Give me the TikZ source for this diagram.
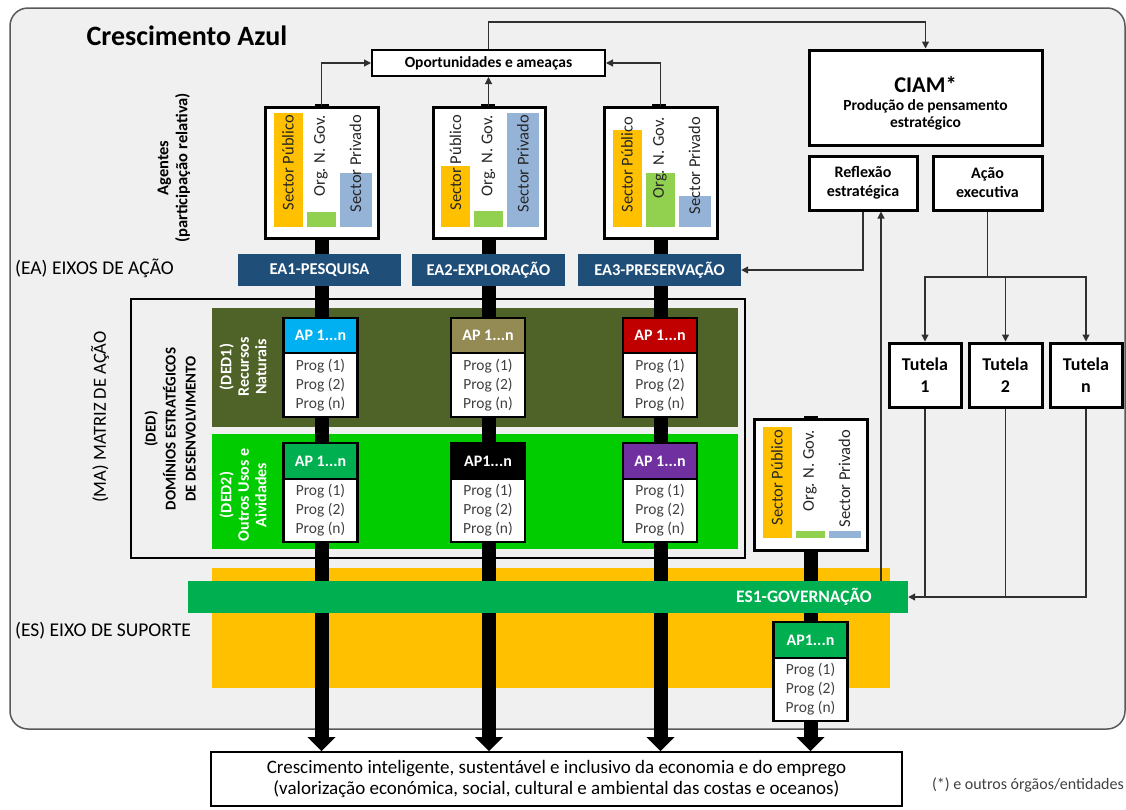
\documentclass[tikz,border=0pt]{standalone}
\usepackage{fontspec}
\setmainfont{Carlito}
\usetikzlibrary{arrows.meta,calc}
\definecolor{bgc}{HTML}{F0F0F0}
\definecolor{framec}{HTML}{595959}
\definecolor{eablue}{HTML}{1F4E79}
\definecolor{orangeC}{HTML}{FFC000}
\definecolor{greenbar}{HTML}{92D050}
\definecolor{bluebar}{HTML}{95B3D7}
\definecolor{olive}{HTML}{4F6228}
\definecolor{brightgreen}{HTML}{00CC00}
\definecolor{esgreen}{HTML}{00B050}
\definecolor{cyanC}{HTML}{00B0F0}
\definecolor{khaki}{HTML}{948A54}
\definecolor{redC}{HTML}{C00000}
\definecolor{purpleC}{HTML}{7030A0}
\definecolor{txtgray}{HTML}{404040}
\definecolor{linec}{HTML}{303030}
\newcommand\fsz[2]{\fontsize{#1}{#2}\selectfont}
\newcommand\agentbars[7]{%
  \fill[orangeC] ({#2-48},#4) rectangle ({#2-19},#3);
  \fill[greenbar] ({#2-15},#5) rectangle ({#2+14},#3);
  \fill[bluebar] ({#2+18},#6) rectangle ({#2+50},#3);
  \node[barlabel] (#1o) at ({#2-33.5},#7) {Sector Público};
  \node[barlabel] (#1g) at ({#2-0.5},#7) {Org. N. Gov.};
  \node[barlabel] (#1b) at ({#2+34},#7) {Sector Privado};
}
\newcommand\apbox[7]{%
  \node[aph, fill=#6, minimum height={#4-#3}] (#1h) at (#2,{(#3+#4)/2}) {#7};
  \node[apb, minimum height={#5-#4}] (#1b) at (#2,{(#4+#5)/2}) {Prog (1)\\Prog (2)\\Prog (n)};
}
\begin{document}
\begin{tikzpicture}[x=1pt,y=-1pt,
  thickbox/.style={draw=black, line width=3pt, fill=white, inner sep=0pt, align=center},
  agbox/.style={draw=black, line width=3pt, fill=white, inner sep=0pt, minimum width=113, minimum height=131},
  barlabel/.style={rotate=90, anchor=east, inner sep=0pt, font=\fsz{16.5}{18}, text=black!85},
  eabar/.style={fill=eablue, text=white, inner sep=0pt, minimum height=32, font=\fsz{16.5}{18}\bfseries},
  aph/.style={draw=black, line width=2.5pt, minimum width=74, inner sep=0pt, text=white, font=\fsz{16}{18}\bfseries},
  apb/.style={draw=black, line width=2.5pt, fill=white, minimum width=74, inner sep=0pt, align=center, text=txtgray, font=\fsz{15.5}{19}},
  thinarrow/.style={draw=linec, line width=1.2pt, -{Triangle[length=7pt,width=7pt]}},
  thinline/.style={draw=linec, line width=1.2pt},
  bigarrow/.style={draw=black, line width=14pt, -{Triangle[length=14pt 0 0,width=28pt 0 0,line width=0pt 0 0]}},
  stub/.style={fill=black}
]
\useasboundingbox (0,0) rectangle (1126,809);
% outer frame
\draw[draw=framec, line width=1.5pt, fill=bgc, rounded corners=18pt] (10,8) rectangle (1125,729);
\node[font=\fsz{28}{32}\bfseries, anchor=center] (title) at (187,36) {Crescimento Azul};
% matrix frame and bands
\draw[line width=2pt] (131,299) rectangle (745,558);
\fill[olive] (212,308) rectangle (738,427);
\fill[brightgreen] (212,434) rectangle (738,549);
\fill[orangeC] (212,568) rectangle (890,688);
% bottom result box
\node[draw=black, line width=2pt, fill=white, minimum width=691, minimum height=54, inner sep=0pt, align=center, font=\fsz{19}{21}] (bot) at (556.5,779)
  {Crescimento inteligente, sustentável e inclusivo da economia e do emprego\\(valorização económica, social, cultural e ambiental das costas e oceanos)};
% agent boxes
\node[agbox] (ag1) at (321.5,172.5) {};
\node[agbox, minimum width=112] (ag2) at (489,172.5) {};
\node[agbox] (ag3) at (660.5,172.5) {};
\node[agbox] (ag4) at (810.5,484.5) {};
\agentbars{a1}{321.5}{227}{113}{212}{173}{115}
\agentbars{a2}{489}{227}{166}{211}{113}{115}
\agentbars{a3}{660.5}{227}{130}{173}{196}{117}
\agentbars{a4}{810.5}{538}{427}{531}{531}{430}
\fill[stub] (315,104) rectangle (329,108);
\fill[stub] (481,104) rectangle (495,108);
\fill[stub] (652,104) rectangle (666,108);
\fill[stub] (804,416) rectangle (818,420);
% thick arrows
\draw[bigarrow] (ag1.south) -- (ag1.south |- bot.north);
\draw[bigarrow] (ag2.south) -- (ag2.south |- bot.north);
\draw[bigarrow] (ag3.south) -- (ag3.south |- bot.north);
\draw[bigarrow] (ag4.south) -- (ag4.south |- bot.north);
% EA bars
\node[eabar, minimum width=163] (ea1) at (319.5,270) {EA1-PESQUISA};
\node[eabar, minimum width=153] (ea2) at (488.5,270) {EA2-EXPLORAÇÃO};
\node[eabar, minimum width=163] (ea3) at (659.5,270) {EA3-PRESERVAÇÃO};
% ES bar
\node[fill=esgreen, minimum width=720, minimum height=32, inner sep=0pt] (es1) at (548,597) {};
\node[anchor=east, text=white, font=\fsz{17.5}{19}\bfseries, inner sep=0pt] (es1t) at (872,597) {ES1-GOVERNAÇÃO};
% AP boxes
\apbox{p11}{320.5}{318}{353}{417}{cyanC}{AP 1...n}
\apbox{p12}{488}{318}{353}{417}{khaki}{AP 1...n}
\apbox{p13}{660}{318}{353}{417}{redC}{AP 1...n}
\apbox{p21}{320.5}{443}{479}{542}{esgreen}{AP 1...n}
\apbox{p22}{488}{443}{479}{542}{black}{AP1...n}
\apbox{p23}{660}{443}{479}{542}{purpleC}{AP 1...n}
\apbox{p31}{810.5}{622}{658}{721}{esgreen}{AP1...n}
% left labels
\node[rotate=90, align=center, font=\fsz{16.5}{19}\bfseries, inner sep=0pt] (agentes) at (174,168) {Agentes\\(participação relativa)};
\node[anchor=west, font=\fsz{19.5}{22}, inner sep=0pt] (eal) at (15,268) {(EA) EIXOS DE AÇÃO};
\node[rotate=90, font=\fsz{18.5}{22}, inner sep=0pt] (mal) at (100,417) {(MA) MATRIZ DE AÇÃO};
\node[rotate=90, align=center, font=\fsz{15}{20}\bfseries, inner sep=0pt] (dedl) at (170,429) {(DED)\\DOMÍNIOS ESTRATÉGICOS\\DE DESENVOLVIMENTO};
\node[rotate=90, align=center, text=white, font=\fsz{16}{17.5}\bfseries, inner sep=0pt] (ded1l) at (243,367) {(DED1)\\Recursos\\Naturais};
\node[rotate=90, align=center, text=white, font=\fsz{16}{17.5}\bfseries, inner sep=0pt] (ded2l) at (243,495) {(DED2)\\Outros Usos e\\Aividades};
\node[anchor=west, font=\fsz{19.5}{22}, inner sep=0pt] (esl) at (15,631) {(ES) EIXO DE SUPORTE};
% top boxes
\node[draw=black, line width=2pt, fill=white, minimum width=233, minimum height=26, inner sep=0pt, font=\fsz{15.5}{17}\bfseries] (opp) at (488.5,63) {Oportunidades e ameaças};
\node[thickbox, minimum width=233, minimum height=95] (ciam) at (925.5,97.5) {};
\node[align=center, inner sep=0pt, font=\fsz{15.5}{17}\bfseries] (ciamt) at (925.5,103) {{\fsz{22.5}{26}\bfseries CIAM*}\\[1pt]Produção de pensamento\\estratégico};
\node[thickbox, minimum width=108, minimum height=54, font=\fsz{16}{19}\bfseries] (refl) at (863,183) {Reflexão\\estratégica};
\node[thickbox, minimum width=109, minimum height=54, font=\fsz{16}{19}\bfseries] (acao) at (987.5,183) {Ação\\executiva};
\node[thickbox, minimum width=72, minimum height=64, font=\fsz{18}{22}\bfseries] (tut1) at (925,375) {Tutela\\1};
\node[thickbox, minimum width=73, minimum height=64, font=\fsz{18}{22}\bfseries] (tut2) at (1005.5,375) {Tutela\\2};
\node[thickbox, minimum width=72, minimum height=64, font=\fsz{18}{22}\bfseries] (tutn) at (1086,375) {Tutela\\n};
\node[anchor=east, text=txtgray, font=\fsz{16}{18}, inner sep=0pt] (note) at (1124,785) {(*) e outros órgãos/entidades};
% thin connectors
\draw[thinarrow] (ag1.north) |- (opp.west);
\draw[thinarrow] (ag2.north -| opp.south) -- (opp.south);
\draw[thinarrow] (ag3.north) |- (opp.east);
\coordinate (topturn) at (488.5,22);
\draw[thinarrow] (opp.north) -- (topturn) -| (ciam.north);
\draw[thinarrow] (refl.south) |- (ea3.east);
\coordinate (esup) at (881,581);
\draw[thinarrow] (esup) -- (esup |- refl.south);
\coordinate (split) at (987.5,277);
\draw[thinline] (acao.south) -- (split);
\draw[thinarrow] (split) -| (tut1.north);
\draw[thinarrow] (split) -- (split -| tut2.north) -- (tut2.north);
\draw[thinarrow] (split) -| (tutn.north);
\draw[thinline] (tut1.south) -- (tut1.south |- es1.east);
\draw[thinline] (tut2.south) -- (tut2.south |- es1.east);
\draw[thinarrow] (tutn.south) |- (es1.east);
\end{tikzpicture}
\end{document}
